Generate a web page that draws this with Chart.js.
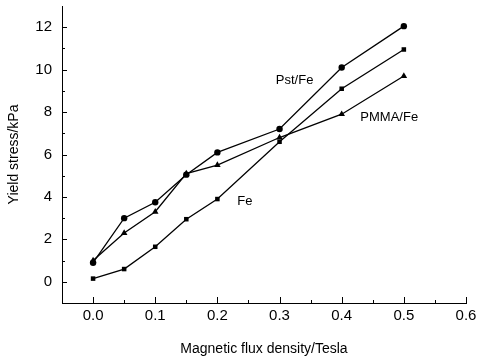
<!DOCTYPE html>
<html>
<head>
<meta charset="utf-8">
<script src="https://cdn.jsdelivr.net/npm/chart.js@4"></script>
<style>
    html, body { margin: 0; padding: 0; background: #fff; }
    #wrap { width: 478px; height: 358px; }
</style>
</head>
<body>
<div id="wrap"><canvas id="chart" width="478" height="358"></canvas></div>
<script>
// Yield stress vs magnetic flux density

const fluxDensity = [0.0, 0.05, 0.1, 0.15, 0.2, 0.3, 0.4, 0.5];
const pstFe = [0.9, 3.0, 3.75, 5.05, 6.1, 7.2, 10.1, 12.05];
const pmmaFe = [1.0, 2.3, 3.3, 5.1, 5.5, 6.8, 7.9, 9.7];
const fe = [0.15, 0.6, 1.65, 2.95, 3.9, 6.6, 9.1, 10.95];

const xTicks = [0.0, 0.1, 0.2, 0.3, 0.4, 0.5, 0.6];
const yTicks = [0, 2, 4, 6, 8, 10, 12];

// curve labels placed in data coordinates
const curveLabels = [
    { text: 'Pst/Fe', x: 0.294, y: 9.5 },
    { text: 'PMMA/Fe', x: 0.43, y: 7.75 },
    { text: 'Fe', x: 0.232, y: 3.8 }
];

function toPoints(values) {
    return fluxDensity.map((x, i) => ({ x: x, y: values[i] }));
}

function makeSeries(label, values, style, radius) {
    return {
        label: label,
        data: toPoints(values),
        borderColor: '#000',
        backgroundColor: '#000',
        borderWidth: 1.3,
        pointStyle: style,
        pointRadius: radius,
        pointBorderWidth: 0,
        fill: false,
        tension: 0
    };
}

// inward tick marks and curve labels
const decorations = {
    id: 'decorations',
    afterDraw(chart) {
        const ctx = chart.ctx;
        const xs = chart.scales.x;
        const ys = chart.scales.y;
        const area = chart.chartArea;
        ctx.save();
        ctx.strokeStyle = '#000';
        ctx.lineWidth = 1;
        ctx.beginPath();
        for (let v = 0; v <= 12; v++) {
            const py = Math.round(ys.getPixelForValue(v)) + 0.5;
            const len = v % 2 === 0 ? 5 : 3;
            ctx.moveTo(area.left, py);
            ctx.lineTo(area.left + len, py);
        }
        for (let i = 0; i <= 12; i++) {
            const v = i * 0.05;
            const px = Math.round(xs.getPixelForValue(v)) + 0.5;
            const len = i % 2 === 0 ? 6 : 3;
            ctx.moveTo(px, area.bottom);
            ctx.lineTo(px, area.bottom - len);
        }
        ctx.stroke();

        ctx.fillStyle = '#000';
        ctx.font = '13px "Liberation Sans", Arial, sans-serif';
        ctx.textAlign = 'left';
        ctx.textBaseline = 'middle';
        curveLabels.forEach(l => {
            ctx.fillText(l.text, xs.getPixelForValue(l.x), ys.getPixelForValue(l.y));
        });
        ctx.restore();
    }
};

const tickFont = { family: '"Liberation Sans", Arial, sans-serif', size: 15 };
const titleFont = { family: '"Liberation Sans", Arial, sans-serif', size: 14 };

new Chart(document.getElementById('chart'), {
    type: 'line',
    data: {
        datasets: [
            makeSeries('Pst/Fe', pstFe, 'circle', 3.2),
            makeSeries('PMMA/Fe', pmmaFe, 'triangle', 3.8),
            makeSeries('Fe', fe, 'rect', 3.2)
        ]
    },
    options: {
        responsive: false,
        animation: false,
        layout: { padding: { left: 2, right: 12, top: 6, bottom: 0 } },
        plugins: {
            legend: { display: false },
            tooltip: { enabled: false }
        },
        scales: {
            x: {
                type: 'linear',
                min: -0.05,
                max: 0.6,
                afterBuildTicks: scale => { scale.ticks = xTicks.map(v => ({ value: v })); },
                afterFit: scale => {
                    scale.height = 55;
                    scale.paddingLeft = 0;
                    scale.paddingRight = 0;
                },
                grid: { display: false },
                border: { display: true, color: '#000', width: 1 },
                ticks: {
                    color: '#000',
                    font: tickFont,
                    padding: -4,
                    maxRotation: 0,
                    callback: v => Number(v).toFixed(1)
                },
                title: {
                    display: true,
                    text: 'Magnetic flux density/Tesla',
                    color: '#000',
                    font: titleFont,
                    padding: { top: 20, bottom: 0 }
                }
            },
            y: {
                type: 'linear',
                min: -1,
                max: 13,
                afterBuildTicks: scale => { scale.ticks = yTicks.map(v => ({ value: v })); },
                afterFit: scale => {
                    scale.width = 60;
                    scale.paddingTop = 0;
                    scale.paddingBottom = 0;
                },
                grid: { display: false },
                border: { display: true, color: '#000', width: 1 },
                ticks: {
                    color: '#000',
                    font: tickFont,
                    padding: 2
                },
                title: {
                    display: true,
                    text: 'Yield stress/kPa',
                    color: '#000',
                    font: titleFont,
                    padding: { bottom: 4 }
                }
            }
        }
    },
    plugins: [decorations]
});
</script>
</body>
</html>
